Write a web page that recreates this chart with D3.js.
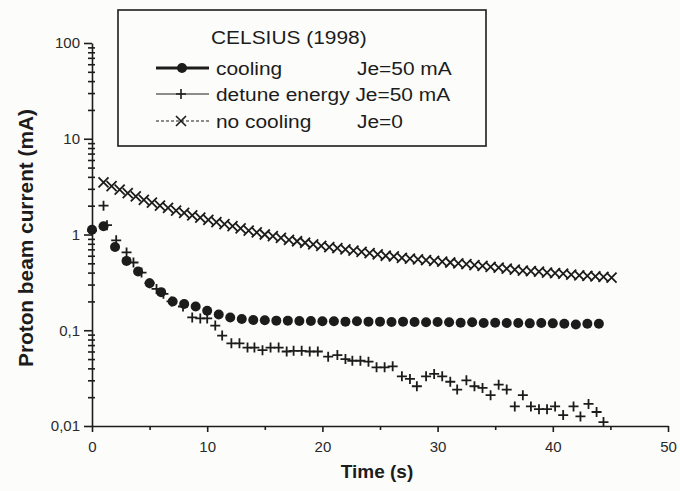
<!DOCTYPE html>
<html>
<head>
<meta charset="utf-8">
<script src="https://cdn.jsdelivr.net/npm/d3@7"></script>
<style>
  body { margin: 0; background: #fcfcfa; }
  svg { display: block; }
  text { font-family: "Liberation Sans", Arial, sans-serif; fill: #1c1c1c; }
  .axis path, .axis line { stroke: #1c1c1c; stroke-width: 1.6; }
  .axis text { font-size: 15px; fill: #2a2a2a; }
</style>
</head>
<body>
<svg width="680" height="491"></svg>
<script>
// cooling, Je=50 mA (one point per second)
const coolingTime = [0,1,2,3,4,5,6,7,8,9,10,11,12,13,14,15,16,17,18,19,20,21,22,
    23,24,25,26,27,28,29,30,31,32,33,34,35,36,37,38,39,40,41,42,43,44];
const coolingCurrent = [1.12,1.22,0.74,0.53,0.41,0.31,0.25,0.2,0.188,0.177,0.16,0.146,0.136,
    0.131,0.128,0.127,0.126,0.126,0.125,0.125,0.124,0.124,0.123,0.124,0.123,0.123,0.122,
    0.123,0.122,0.121,0.122,0.121,0.12,0.121,0.119,0.12,0.119,0.119,0.118,0.119,0.118,
    0.117,0.115,0.117,0.117];

// detune energy, Je=50 mA
const detuneTime = [0,1.0,1.3,2.1,3.0,3.6,4.3,5.0,5.6,6.2,6.9,7.9,8.7,9.4,10.0,10.7,11.3,
    12.1,12.8,13.5,14.1,14.8,15.5,16.2,16.9,17.5,18.2,18.9,19.6,20.5,21.3,22.0,22.6,23.3,
    24.0,24.7,25.4,26.1,26.9,27.6,28.2,29.0,29.7,30.4,31.1,31.7,32.5,33.2,33.9,34.6,35.3,
    36.0,36.7,37.4,38.1,38.8,39.5,40.2,40.9,41.8,42.4,43.1,43.8,44.4];
const detuneCurrent = [1.1,2.0,1.25,0.87,0.65,0.51,0.4,0.31,0.27,0.24,0.2,0.177,0.136,0.133,
    0.133,0.112,0.088,0.073,0.073,0.066,0.066,0.062,0.066,0.066,0.06,0.061,0.061,0.06,0.06,
    0.053,0.055,0.05,0.048,0.048,0.047,0.041,0.041,0.042,0.033,0.031,0.026,0.033,0.035,0.033,
    0.029,0.024,0.03,0.026,0.025,0.021,0.027,0.024,0.016,0.021,0.016,0.015,0.015,0.016,
    0.013,0.016,0.0126,0.017,0.014,0.011];

// no cooling, Je=0
const noCoolTime = [1.0,1.7,2.4,3.1,3.8,4.5,5.2,5.9,6.6,7.3,8.0,8.7,9.4,10.1,10.8,11.5,12.2,
    12.9,13.6,14.3,15.0,15.7,16.4,17.1,17.8,18.5,19.2,19.9,20.6,21.3,22.0,22.7,23.4,24.1,
    24.8,25.5,26.2,26.9,27.6,28.3,29.0,29.7,30.4,31.1,31.8,32.5,33.2,33.9,34.6,35.3,36.0,
    36.7,37.4,38.1,38.8,39.5,40.2,40.9,41.6,42.3,43.0,43.7,44.4,45.1];
const noCoolCurrent = [3.5,3.2,2.95,2.7,2.5,2.3,2.15,2.0,1.9,1.78,1.68,1.58,1.5,1.42,1.35,
    1.28,1.22,1.16,1.1,1.05,1.0,0.96,0.92,0.88,0.85,0.82,0.79,0.76,0.74,0.72,0.7,0.68,0.66,
    0.64,0.62,0.6,0.59,0.57,0.56,0.55,0.54,0.53,0.52,0.51,0.5,0.49,0.48,0.47,0.46,0.45,0.44,
    0.43,0.42,0.415,0.41,0.4,0.395,0.39,0.38,0.375,0.37,0.365,0.36,0.355];

const xTicks = [0, 10, 20, 30, 40, 50];
const xMinorTicks = [5, 15, 25, 35, 45];
const yTicks = [0.01, 0.1, 1, 10, 100];
const yTickLabels = ["0,01", "0,1", "1", "10", "100"];

const legendTitle = "CELSIUS (1998)";
const legendNames = ["cooling", "detune energy", "no cooling"];
const legendJe = ["Je=50 mA", "Je=50 mA", "Je=0"];

const ink = "#1c1c1c";
const svg = d3.select("svg");

const x = d3.scaleLinear().domain([0, 50]).range([92, 668]);
const y = d3.scaleLog().domain([0.01, 100]).range([426, 43]);

// minor y ticks (2..9 per decade)
let yMinor = [];
yTicks.slice(0, -1).forEach(d => { for (let k = 2; k < 10; k++) yMinor.push(d * k); });

svg.append("g")
    .attr("class", "axis")
    .attr("transform", "translate(95,0)")
    .call(d3.axisLeft(y).tickValues(yMinor).tickSize(7).tickFormat(""))
    .call(g => g.select(".domain").remove())
    .selectAll("line").attr("stroke-width", 1.2);

svg.append("g")
    .attr("class", "axis")
    .attr("transform", "translate(92,0)")
    .call(d3.axisLeft(y).tickValues(yTicks).tickSize(8).tickSizeOuter(0).tickPadding(4)
        .tickFormat((d, i) => yTickLabels[i]));

svg.append("g")
    .attr("class", "axis")
    .attr("transform", "translate(0,426)")
    .call(d3.axisBottom(x).tickValues(xMinorTicks).tickSize(4).tickFormat(""))
    .call(g => g.select(".domain").remove());

svg.append("g")
    .attr("class", "axis")
    .attr("transform", "translate(0,426)")
    .call(d3.axisBottom(x).tickValues(xTicks).tickSize(6).tickSizeOuter(0).tickPadding(9));

// axis titles
svg.append("text")
    .attr("x", 377).attr("y", 478)
    .attr("text-anchor", "middle")
    .style("font-weight", "bold").style("font-size", "19px")
    .text("Time (s)");

svg.append("text")
    .attr("transform", "translate(33,238) rotate(-90)")
    .attr("text-anchor", "middle")
    .attr("textLength", 258).attr("lengthAdjust", "spacingAndGlyphs")
    .style("font-weight", "bold").style("font-size", "19.5px")
    .text("Proton beam current (mA)");

// markers
const plusPath = "M-5,0H5M0,-5V5";
const crossPath = "M-5,-5L5,5M-5,5L5,-5";

const noCool = noCoolTime.map((t, i) => ({ t: t, v: noCoolCurrent[i] }));
const detune = detuneTime.map((t, i) => ({ t: t, v: detuneCurrent[i] }));
const cooling = coolingTime.map((t, i) => ({ t: t, v: coolingCurrent[i] }));

svg.append("g").selectAll("path")
    .data(noCool)
    .join("path")
    .attr("d", crossPath)
    .attr("transform", d => "translate(" + x(d.t) + "," + y(d.v) + ")")
    .attr("stroke", ink).attr("stroke-width", 1.8).attr("fill", "none");

svg.append("g").selectAll("path")
    .data(detune)
    .join("path")
    .attr("d", plusPath)
    .attr("transform", d => "translate(" + x(d.t) + "," + y(d.v) + ")")
    .attr("stroke", ink).attr("stroke-width", 1.8).attr("fill", "none");

svg.append("g").selectAll("circle")
    .data(cooling)
    .join("circle")
    .attr("cx", d => x(d.t))
    .attr("cy", d => y(d.v))
    .attr("r", 5)
    .attr("fill", ink);

// legend (scanned text is a bit wider than Arial, so stretch it)
const legend = svg.append("g");
legend.append("rect")
    .attr("x", 118).attr("y", 10).attr("width", 368).attr("height", 136)
    .attr("fill", "none").attr("stroke", ink).attr("stroke-width", 1.6);

function legendText(tx, ty, str) {
    legend.append("g")
        .attr("transform", "translate(" + tx + "," + ty + ") scale(1.1,1)")
        .append("text")
        .style("font-size", "19px")
        .text(str);
}

legendText(211, 44, legendTitle);

const rowY = [68, 94, 121];

legendNames.forEach((name, i) => {
    const ly = rowY[i];
    const line = legend.append("line")
        .attr("x1", 156).attr("x2", 209)
        .attr("y1", ly).attr("y2", ly)
        .attr("stroke", ink);
    if (i == 0) line.attr("stroke-width", 3);
    else if (i == 1) line.attr("stroke-width", 1);
    else line.attr("stroke-width", 1).attr("stroke-dasharray", "3,2");

    if (i == 0) {
        legend.append("circle").attr("cx", 182).attr("cy", ly).attr("r", 5).attr("fill", ink);
    } else {
        legend.append("path")
            .attr("d", i == 1 ? plusPath : crossPath)
            .attr("transform", "translate(181," + ly + ")")
            .attr("stroke", ink).attr("stroke-width", 1.6).attr("fill", "none");
    }

    if (i == 1) {
        legendText(216, ly + 7, name + " " + legendJe[i]);
    } else {
        legendText(216, ly + 7, name);
        legendText(357, ly + 7, legendJe[i]);
    }
});
</script>
</body>
</html>
